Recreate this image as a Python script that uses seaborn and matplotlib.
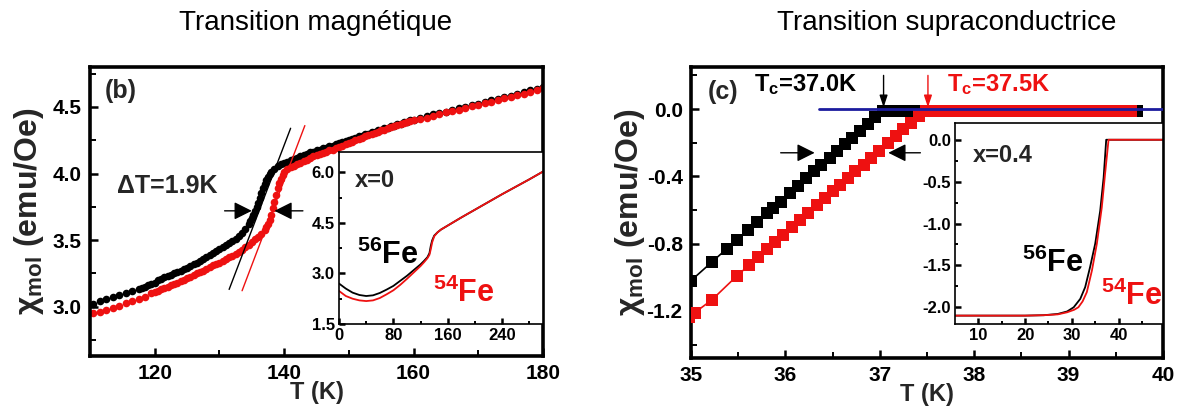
import matplotlib
matplotlib.use("Agg")
import matplotlib.pyplot as plt
from matplotlib.ticker import FixedLocator, FormatStrFormatter
import seaborn as sns

# ---------------- Data: panel (b) magnetic transition ----------------
T_56b = [110.5, 111.5, 112.5, 113.5, 114.5, 115.5, 116.5, 117.5,
         118.0, 118.5, 119.0, 119.5, 120.0, 120.5, 121.0, 121.5, 122.0, 122.5,
         123.0, 123.5, 124.0, 124.5, 125.0, 125.5, 126.0, 126.5, 127.0, 127.5,
         128.0, 128.5, 129.0, 129.5, 130.0, 130.5, 131.0, 131.5, 132.0, 132.5,
         133.0, 133.5, 134.0, 134.5, 135.0, 135.5, 136.0, 136.5, 137.0, 137.5,
         138.0, 138.5, 139.0, 139.5, 140.0, 140.5, 141.0, 141.5, 142.0, 142.5,
         143.0, 143.5, 144.0, 144.5, 145.0, 145.5, 146.0, 146.5, 147.0, 147.5,
         148.0, 148.5, 149.0, 149.5, 150.0, 150.5, 151.0, 151.5, 152.0, 152.5,
         153.0, 153.5, 154.0, 154.5, 155.0, 155.5, 156.0, 156.5, 157.0, 157.5,
         158.0, 158.5, 159.0, 159.5, 160.0,
         161, 162, 163, 164, 165, 166, 167, 168, 169, 170,
         171, 172, 173, 174, 175, 176, 177, 178, 179, 180]
chi_56b = [3.02, 3.04, 3.055, 3.07, 3.085, 3.10, 3.115, 3.13,
           3.14, 3.15, 3.16, 3.17, 3.18, 3.20, 3.21, 3.22, 3.23, 3.24,
           3.25, 3.26, 3.27, 3.28, 3.29, 3.305, 3.32, 3.33, 3.345, 3.36,
           3.37, 3.385, 3.40, 3.42, 3.435, 3.45, 3.465, 3.48, 3.495, 3.51,
           3.53, 3.555, 3.585, 3.62, 3.665, 3.72, 3.78, 3.855, 3.925, 3.975,
           4.01, 4.035, 4.055, 4.07, 4.08, 4.09, 4.10, 4.11, 4.12, 4.13,
           4.14, 4.15, 4.16, 4.165, 4.175, 4.18, 4.19, 4.195, 4.205, 4.21,
           4.22, 4.23, 4.235, 4.245, 4.255, 4.26, 4.27, 4.28, 4.285, 4.295,
           4.30, 4.31, 4.315, 4.325, 4.33, 4.34, 4.345, 4.355, 4.36, 4.37,
           4.375, 4.385, 4.39, 4.40, 4.405,
           4.42, 4.43, 4.445, 4.455, 4.465, 4.48, 4.49, 4.50, 4.515, 4.525,
           4.54, 4.55, 4.56, 4.575, 4.585, 4.60, 4.61, 4.625, 4.635, 4.65]
# extra readings in the steep part (measured more densely)
T_56b_steep = [134.75, 135.25, 135.75, 136.25, 136.75, 137.25, 137.75]
chi_56b_steep = [3.64, 3.69, 3.75, 3.815, 3.89, 3.95, 3.995]

T_54b = [110.5, 111.5, 112.5, 113.5, 114.5, 115.5, 116.5, 117.5, 118.5,
         119.5, 120.0, 120.5, 121.0, 121.5, 122.0, 122.5,
         123.0, 123.5, 124.0, 124.5, 125.0, 125.5, 126.0, 126.5, 127.0, 127.5,
         128.0, 128.5, 129.0, 129.5, 130.0, 130.5, 131.0, 131.5, 132.0, 132.5,
         133.0, 133.5, 134.0, 134.5, 135.0, 135.5, 136.0, 136.5, 137.0, 137.5,
         138.0, 138.5, 139.0, 139.5, 140.0, 140.5, 141.0, 141.5, 142.0, 142.5,
         143.0, 143.5, 144.0, 144.5, 145.0, 145.5, 146.0, 146.5, 147.0, 147.5,
         148.0, 148.5, 149.0, 149.5, 150.0, 150.5, 151.0, 151.5, 152.0, 152.5,
         153.0, 153.5, 154.0, 154.5, 155.0, 155.5, 156.0, 156.5, 157.0, 157.5,
         158.0, 158.5, 159.0, 159.5, 160.0,
         161, 162, 163, 164, 165, 166, 167, 168, 169, 170,
         171, 172, 173, 174, 175, 176, 177, 178, 179, 180]
chi_54b = [2.95, 2.96, 2.975, 2.99, 3.005, 3.025, 3.04, 3.06, 3.075,
           3.10, 3.11, 3.12, 3.13, 3.14, 3.15, 3.16,
           3.17, 3.18, 3.19, 3.20, 3.215, 3.225, 3.24, 3.25, 3.26, 3.27,
           3.285, 3.295, 3.31, 3.32, 3.33, 3.345, 3.355, 3.37, 3.38, 3.395,
           3.41, 3.425, 3.445, 3.465, 3.485, 3.505, 3.525, 3.545, 3.575, 3.62,
           3.69, 3.79, 3.89, 3.96, 4.01, 4.035, 4.05, 4.06, 4.07, 4.08,
           4.095, 4.105, 4.12, 4.13, 4.14, 4.15, 4.155, 4.165, 4.175, 4.18,
           4.19, 4.20, 4.21, 4.22, 4.23, 4.24, 4.25, 4.26, 4.27, 4.28,
           4.29, 4.295, 4.305, 4.315, 4.325, 4.33, 4.34, 4.35, 4.355, 4.365,
           4.37, 4.38, 4.39, 4.395, 4.405,
           4.41, 4.42, 4.435, 4.445, 4.46, 4.47, 4.48, 4.495, 4.505, 4.515,
           4.53, 4.54, 4.555, 4.565, 4.575, 4.59, 4.60, 4.615, 4.625, 4.64]
T_54b_steep = [137.25, 137.75, 138.25, 138.75, 139.25, 139.75]
chi_54b_steep = [3.595, 3.65, 3.74, 3.84, 3.93, 3.99]

# tangent lines through the transition
fit56_T = [131.5, 141.0]
fit56_chi = [3.13, 4.34]
fit54_T = [133.5, 143.2]
fit54_chi = [3.12, 4.36]

# inset x = 0 (full range)
ins1_T56 = [0, 10, 20, 30, 40, 50, 60, 70, 80, 90, 100, 110, 120, 125, 130,
            133, 135, 137, 140, 145, 150, 160, 180, 200, 220, 240, 260, 280, 300]
ins1_chi56 = [2.70, 2.55, 2.43, 2.36, 2.33, 2.35, 2.42, 2.52, 2.63, 2.78, 2.93,
              3.10, 3.27, 3.37, 3.48, 3.60, 3.82, 3.98, 4.12, 4.22, 4.30, 4.42,
              4.66, 4.89, 5.12, 5.35, 5.57, 5.79, 6.02]
ins1_T54 = [0, 10, 20, 30, 40, 50, 60, 70, 80, 90, 100, 110, 120, 125, 130,
            133, 135, 137, 140, 145, 150, 160, 180, 200, 220, 240, 260, 280, 300]
ins1_chi54 = [2.48, 2.33, 2.25, 2.20, 2.18, 2.20, 2.27, 2.38, 2.50, 2.66, 2.84,
              3.03, 3.22, 3.33, 3.45, 3.55, 3.72, 3.92, 4.10, 4.22, 4.30, 4.42,
              4.66, 4.89, 5.12, 5.35, 5.57, 5.79, 6.02]

# ---------------- Data: panel (c) superconducting transition ----------------
T_56c = [35.00, 35.22, 35.38, 35.49, 35.60, 35.70, 35.80, 35.87, 35.95, 36.05,
         36.13, 36.22, 36.30, 36.38, 36.47, 36.55, 36.63, 36.71, 36.79, 36.87,
         36.95, 37.03, 37.12, 37.20, 37.28, 37.36, 37.46, 37.56, 37.66, 37.76,
         37.86, 37.96, 38.06, 38.16, 38.26, 38.36, 38.46, 38.56, 38.66, 38.76,
         38.86, 38.96, 39.06, 39.16, 39.26, 39.36, 39.46, 39.56, 39.64, 39.72]
chi_56c = [-1.02, -0.91, -0.83, -0.78, -0.72, -0.67, -0.62, -0.59, -0.55, -0.50,
           -0.46, -0.41, -0.37, -0.33, -0.29, -0.25, -0.21, -0.17, -0.13, -0.09,
           -0.05, -0.01, -0.01, -0.01, -0.01, -0.01, -0.01, -0.01, -0.01, -0.01,
           -0.01, -0.01, -0.01, -0.01, -0.01, -0.01, -0.01, -0.01, -0.01, -0.01,
           -0.01, -0.01, -0.01, -0.01, -0.01, -0.01, -0.01, -0.01, -0.01, -0.01]
T_54c = [34.98, 35.04, 35.22, 35.49, 35.61, 35.71, 35.81, 35.89, 35.97, 36.07,
         36.15, 36.24, 36.34, 36.42, 36.50, 36.58, 36.66, 36.74, 36.83, 36.91,
         36.99, 37.09, 37.17, 37.25, 37.33, 37.41, 37.49, 37.57, 37.66, 37.74,
         37.82, 37.90, 37.98, 38.06, 38.14, 38.22, 38.30, 38.38, 38.46, 38.54,
         38.62, 38.70, 38.78, 38.86, 38.94, 39.02, 39.10, 39.18, 39.26, 39.34,
         39.42, 39.50, 39.58, 39.66]
chi_54c = [-1.235, -1.21, -1.135, -0.99, -0.93, -0.88, -0.83, -0.79, -0.75, -0.70,
           -0.66, -0.62, -0.57, -0.53, -0.49, -0.45, -0.41, -0.37, -0.33, -0.29,
           -0.25, -0.20, -0.16, -0.12, -0.08, -0.04, -0.01, -0.01, -0.01, -0.01,
           -0.01, -0.01, -0.01, -0.01, -0.01, -0.01, -0.01, -0.01, -0.01, -0.01,
           -0.01, -0.01, -0.01, -0.01, -0.01, -0.01, -0.01, -0.01, -0.01, -0.01,
           -0.01, -0.01, -0.01, -0.01]
base_T = [36.36, 40.0]
base_chi = [0.0, 0.0]

# inset x = 0.4 (full range)
ins2_T56 = [5, 10, 15, 20, 24, 27, 29, 30.4, 31.8, 32.85, 33.9, 35.0, 36.06,
            36.8, 37.35, 40, 45, 50]
ins2_chi56 = [-2.10, -2.10, -2.10, -2.10, -2.095, -2.08, -2.05, -2.00, -1.90,
              -1.76, -1.52, -1.24, -0.85, -0.45, 0.0, 0.0, 0.0, 0.0]
ins2_T54 = [5, 10, 15, 20, 24, 27, 29, 30.5, 31.4, 32.3, 33.2, 34.3, 35.35,
            36.4, 37.1, 37.85, 40, 45, 50]
ins2_chi54 = [-2.10, -2.10, -2.10, -2.10, -2.095, -2.085, -2.06, -2.03, -2.00,
              -1.93, -1.82, -1.56, -1.24, -0.81, -0.41, 0.0, 0.0, 0.0, 0.0]

# ---------------- Style ----------------
sns.set_theme(style="white")
plt.rcParams["font.family"] = ["Liberation Sans", "DejaVu Sans"]
plt.rcParams["font.weight"] = "bold"
plt.rcParams["axes.labelweight"] = "bold"
plt.rcParams["axes.unicode_minus"] = False
plt.rcParams["mathtext.fontset"] = "custom"
plt.rcParams["mathtext.rm"] = "Liberation Sans:bold"
plt.rcParams["mathtext.bf"] = "Liberation Sans:bold"
plt.rcParams["mathtext.it"] = "Liberation Sans:bold"

RED = "#ee1111"
BLUE = "#1c1c9e"
W, H = 1180, 412

fig = plt.figure(figsize=(W / 100, H / 100), dpi=100)
fig.patch.set_facecolor("white")


def box(x0, y0, x1, y1):
    return [x0 / W, 1 - y1 / H, (x1 - x0) / W, (y1 - y0) / H]


ax1 = fig.add_axes(box(90, 67, 543, 356))
ax2 = fig.add_axes(box(691, 67, 1163, 358))


def style(ax, lw, maj, mino, size, pad):
    for s in ax.spines.values():
        s.set_visible(True)
        s.set_linewidth(lw)
        s.set_color("black")
    ax.set_facecolor("white")
    ax.tick_params(which="both", direction="in", top=False, right=False,
                   bottom=True, left=True, colors="black")
    ax.tick_params(which="major", length=maj, width=1.8, labelsize=size, pad=pad)
    ax.tick_params(which="minor", length=mino, width=1.4)
    for lab in ax.get_xticklabels() + ax.get_yticklabels():
        lab.set_fontweight("bold")


# ---------- panel (b) ----------
sns.scatterplot(x=T_56b, y=chi_56b, ax=ax1, color="black", s=30, linewidth=0,
                marker="o", zorder=2)
sns.scatterplot(x=T_56b_steep, y=chi_56b_steep, ax=ax1, color="black", s=30,
                linewidth=0, marker="o", zorder=2)
sns.scatterplot(x=T_54b, y=chi_54b, ax=ax1, color=RED, s=30, linewidth=0,
                marker="o", zorder=2)
sns.scatterplot(x=T_54b_steep, y=chi_54b_steep, ax=ax1, color=RED, s=30,
                linewidth=0, marker="o", zorder=2)
sns.lineplot(x=fit56_T, y=fit56_chi, ax=ax1, color="black", lw=1.0, zorder=3)
sns.lineplot(x=fit54_T, y=fit54_chi, ax=ax1, color=RED, lw=1.0, zorder=3)
ax1.set_xlim(110, 180)
ax1.set_ylim(2.63, 4.8)
ax1.xaxis.set_major_locator(FixedLocator([120, 140, 160, 180]))
ax1.xaxis.set_minor_locator(FixedLocator([130, 150, 170]))
ax1.yaxis.set_major_locator(FixedLocator([3.0, 3.5, 4.0, 4.5]))
ax1.yaxis.set_minor_locator(FixedLocator([2.75, 3.25, 3.75, 4.25, 4.75]))
ax1.yaxis.set_major_formatter(FormatStrFormatter("%.1f"))
style(ax1, 2.6, 6, 4, 15, 6)
ax1.set_xlabel("T (K)", fontsize=17, fontweight="bold")
ax1.set_ylabel(r"χ$_{\mathrm{mol}}$ (emu/Oe)", fontsize=23, fontweight="bold")
ax1.xaxis.set_label_coords(0.5, -0.085)
ax1.yaxis.set_label_coords(-0.097, 0.5)
ax1.text(0.033, 0.917, "(b)", transform=ax1.transAxes, fontsize=18,
         fontweight="bold", ha="left", va="center")
ax1.text(0.06, 0.588, "ΔT=1.9K", transform=ax1.transAxes, fontsize=18,
         fontweight="bold", ha="left", va="center")
arr = dict(arrowstyle="-|>,head_width=0.45,head_length=0.9", color="black",
           lw=1.0, shrinkA=0, shrinkB=0)
ax1.annotate("", xy=(135.0, 3.72), xytext=(130.8, 3.72), arrowprops=arr)
ax1.annotate("", xy=(138.5, 3.72), xytext=(142.9, 3.72), arrowprops=arr)

# inset x=0
in1 = fig.add_axes(box(339, 152, 543, 324))
sns.lineplot(x=ins1_T56, y=ins1_chi56, ax=in1, color="black", lw=1.3)
sns.lineplot(x=ins1_T54, y=ins1_chi54, ax=in1, color=RED, lw=1.3)
in1.set_xlim(0, 300)
in1.set_ylim(1.5, 6.6)
in1.xaxis.set_major_locator(FixedLocator([0, 80, 160, 240]))
in1.xaxis.set_minor_locator(FixedLocator([40, 120, 200, 280]))
in1.yaxis.set_major_locator(FixedLocator([1.5, 3.0, 4.5, 6.0]))
in1.yaxis.set_minor_locator(FixedLocator([2.25, 3.75, 5.25]))
in1.yaxis.set_major_formatter(FormatStrFormatter("%.1f"))
style(in1, 1.2, 4, 2.5, 12, 3)
in1.set_xlabel("")
in1.set_ylabel("")
in1.text(0.078, 0.837, "x=0", transform=in1.transAxes, fontsize=17,
         fontweight="bold", ha="left", va="center")
in1.text(0.088, 0.40, r"$^{56}$Fe", transform=in1.transAxes, fontsize=22,
         fontweight="bold", ha="left", va="center", color="black")
in1.text(0.46, 0.18, r"$^{54}$Fe", transform=in1.transAxes, fontsize=22,
         fontweight="bold", ha="left", va="center", color=RED)

# ---------- panel (c) ----------
sns.lineplot(x=T_56c, y=chi_56c, ax=ax2, color="black", lw=1.2, marker="s",
             markersize=8, markeredgewidth=0, zorder=2)
sns.lineplot(x=T_54c, y=chi_54c, ax=ax2, color=RED, lw=1.2, marker="s",
             markersize=8, markeredgewidth=0, zorder=3)
sns.lineplot(x=base_T, y=base_chi, ax=ax2, color=BLUE, lw=2.0, zorder=4)
ax2.set_xlim(35, 40)
ax2.set_ylim(-1.48, 0.25)
ax2.xaxis.set_major_locator(FixedLocator([35, 36, 37, 38, 39, 40]))
ax2.xaxis.set_minor_locator(FixedLocator([35.5, 36.5, 37.5, 38.5, 39.5]))
ax2.xaxis.set_major_formatter(FormatStrFormatter("%d"))
ax2.yaxis.set_major_locator(FixedLocator([0.0, -0.4, -0.8, -1.2]))
ax2.yaxis.set_minor_locator(FixedLocator([0.2, -0.2, -0.6, -1.0, -1.4]))
ax2.yaxis.set_major_formatter(FormatStrFormatter("%.1f"))
style(ax2, 2.6, 6, 4, 15, 6)
ax2.set_xlabel("T (K)", fontsize=17, fontweight="bold")
ax2.set_ylabel(r"χ$_{\mathrm{mol}}$ (emu/Oe)", fontsize=23, fontweight="bold")
ax2.xaxis.set_label_coords(0.5, -0.086)
ax2.yaxis.set_label_coords(-0.093, 0.5)
ax2.text(0.036, 0.914, "(c)", transform=ax2.transAxes, fontsize=18,
         fontweight="bold", ha="left", va="center")
ax2.text(0.133, 0.938, r"T$_{\mathrm{c}}$=37.0K", transform=ax2.transAxes,
         fontsize=17, fontweight="bold", ha="left", va="center", color="black")
ax2.text(0.542, 0.938, r"T$_{\mathrm{c}}$=37.5K", transform=ax2.transAxes,
         fontsize=17, fontweight="bold", ha="left", va="center", color=RED)
varr = dict(arrowstyle="-|>,head_width=0.2,head_length=0.6", lw=1.0,
            shrinkA=0, shrinkB=0)
ax2.annotate("", xy=(37.04, 0.01), xytext=(37.04, 0.20),
             arrowprops=dict(varr, color="black"), zorder=5)
ax2.annotate("", xy=(37.51, 0.01), xytext=(37.51, 0.20),
             arrowprops=dict(varr, color=RED), zorder=5)
ax2.annotate("", xy=(36.31, -0.26), xytext=(35.95, -0.26), arrowprops=arr)
ax2.annotate("", xy=(37.09, -0.26), xytext=(37.43, -0.26), arrowprops=arr)

# inset x=0.4
in2 = fig.add_axes(box(955, 123, 1163, 324))
sns.lineplot(x=ins2_T56, y=ins2_chi56, ax=in2, color="black", lw=1.3)
sns.lineplot(x=ins2_T54, y=ins2_chi54, ax=in2, color=RED, lw=1.3)
in2.set_xlim(5, 49.5)
in2.set_ylim(-2.2, 0.2)
in2.xaxis.set_major_locator(FixedLocator([10, 20, 30, 40]))
in2.xaxis.set_minor_locator(FixedLocator([15, 25, 35, 45]))
in2.yaxis.set_major_locator(FixedLocator([0.0, -0.5, -1.0, -1.5, -2.0]))
in2.yaxis.set_minor_locator(FixedLocator([-0.25, -0.75, -1.25, -1.75]))
in2.yaxis.set_major_formatter(FormatStrFormatter("%.1f"))
style(in2, 1.2, 4, 2.5, 12, 3)
in2.set_xlabel("")
in2.set_ylabel("")
in2.text(0.087, 0.836, "x=0.4", transform=in2.transAxes, fontsize=17,
         fontweight="bold", ha="left", va="center")
in2.text(0.32, 0.30, r"$^{56}$Fe", transform=in2.transAxes, fontsize=22,
         fontweight="bold", ha="left", va="center", color="black")
in2.text(0.70, 0.14, r"$^{54}$Fe", transform=in2.transAxes, fontsize=22,
         fontweight="bold", ha="left", va="center", color=RED)

# titles
fig.text(316 / W, 1 - 23 / H, "Transition magnétique", ha="center", va="center",
         fontsize=20, fontweight="normal", color="black")
fig.text(947 / W, 1 - 23 / H, "Transition supraconductrice", ha="center",
         va="center", fontsize=20, fontweight="normal", color="black")

fig.savefig("out.png", dpi=100, facecolor="white")
